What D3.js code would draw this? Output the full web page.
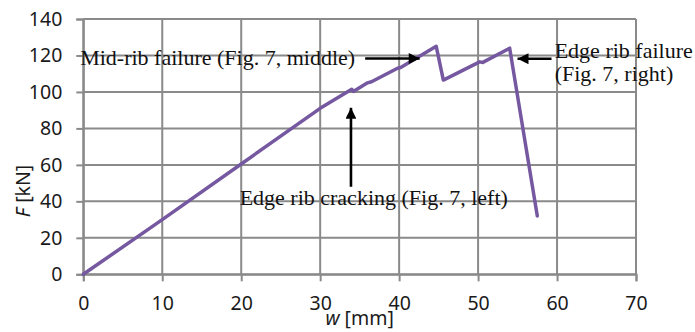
<!DOCTYPE html>
<html><head><meta charset="utf-8">
<script src="https://cdn.jsdelivr.net/npm/d3@7"></script>
<style>
html,body{margin:0;padding:0;background:#fff;}
svg{display:block;}
</style></head>
<body>
<script>
// Data
const wValues = [0, 10, 20, 30, 34.0, 34.2, 36.0, 36.5, 39.8, 40.2, 44.7, 45.6, 50.2, 50.6, 54.0, 57.5];
const fValues = [0, 30, 60.5, 91, 101.5, 100.3, 105, 105.6, 113, 113.4, 125, 106.5, 116.5, 116.2, 124, 32];
const xTicks = [0, 10, 20, 30, 40, 50, 60, 70];
const yTicks = [0, 20, 40, 60, 80, 100, 120, 140];
const annotations = [
  {lines: ["Mid-rib failure (Fig. 7, middle)"], tx: -0.4, ty: 114.6, from: [35.7, 118.3], to: [42.6, 118.3]},
  {lines: ["Edge rib failure", "(Fig. 7, right)"], tx: 59.7, ty: 118.5, from: [59.3, 118.2], to: [55.0, 118.2]},
  {lines: ["Edge rib cracking (Fig. 7, left)"], tx: 19.8, ty: 38, from: [33.9, 48], to: [33.9, 91.3]}
];

const W = 695, H = 332;
const svg = d3.select("body").append("svg").attr("width", W).attr("height", H);
const x = d3.scaleLinear().domain([0, 70]).range([83.3, 636]);
const y = d3.scaleLinear().domain([0, 140]).range([274.3, 19]);

const gridColor = "#8a8a8a";
// grid
svg.append("g").selectAll("line.h").data(yTicks).join("line")
  .attr("x1", x(0)).attr("x2", x(70)).attr("y1", d => y(d)).attr("y2", d => y(d))
  .attr("stroke", gridColor).attr("stroke-width", 2);
svg.append("g").selectAll("line.v").data(xTicks).join("line")
  .attr("y1", y(0)).attr("y2", y(140)).attr("x1", d => x(d)).attr("x2", d => x(d))
  .attr("stroke", gridColor).attr("stroke-width", 2);

// axes
const xAxis = svg.append("g").attr("transform", `translate(0,${y(0)})`)
  .call(d3.axisBottom(x).tickValues(xTicks).tickSize(7).tickPadding(15));
const yAxis = svg.append("g").attr("transform", `translate(${x(0)},0)`)
  .call(d3.axisLeft(y).tickValues(yTicks).tickSize(7).tickPadding(14));
[xAxis, yAxis].forEach(g => {
  g.select(".domain").attr("stroke", gridColor).attr("stroke-width", 2);
  g.selectAll(".tick line").attr("stroke", gridColor).attr("stroke-width", 2);
  g.selectAll(".tick text").attr("fill", "#1a1a1a")
    .style("font-family", "'Noto Sans', 'Open Sans', sans-serif").style("font-size", "19.5px");
});

// axis titles
svg.append("text").attr("x", x(35)).attr("y", 325).attr("text-anchor", "middle")
  .style("font-family", "'Noto Sans', sans-serif").style("font-size", "19.5px").attr("fill", "#1a1a1a")
  .html('<tspan font-style="italic">w</tspan> [mm]');
svg.append("text").attr("transform", "translate(30,191) rotate(-90)").attr("text-anchor", "middle")
  .style("font-family", "'Noto Sans', sans-serif").style("font-size", "19.5px").attr("fill", "#1a1a1a")
  .html('<tspan font-style="italic">F</tspan> [kN]');

// data line
const pts = wValues.map((w, i) => [w, fValues[i]]);
svg.append("path").datum(pts)
  .attr("d", d3.line().x(d => x(d[0])).y(d => y(d[1])))
  .attr("fill", "none").attr("stroke", "#7558a0").attr("stroke-width", 3.5)
  .attr("stroke-linejoin", "round").attr("stroke-linecap", "round");

// arrow marker
svg.append("defs").append("marker").attr("id", "ah")
  .attr("viewBox", "0 0 10 10").attr("refX", 10).attr("refY", 5)
  .attr("markerWidth", 5).attr("markerHeight", 4.2).attr("markerUnits", "strokeWidth")
  .attr("orient", "auto")
  .append("path").attr("d", "M0,0 L10,5 L0,10 Z").attr("fill", "#000");

// annotations
annotations.forEach(a => {
  svg.append("line")
    .attr("x1", x(a.from[0])).attr("y1", y(a.from[1]))
    .attr("x2", x(a.to[0])).attr("y2", y(a.to[1]))
    .attr("stroke", "#000").attr("stroke-width", 2.6).attr("marker-end", "url(#ah)");
  const t = svg.append("text").attr("x", x(a.tx)).attr("y", y(a.ty))
    .style("font-family", "'Liberation Serif', 'Times New Roman', serif").style("font-size", "22px")
    .attr("fill", "#111");
  a.lines.forEach((l, i) => {
    t.append("tspan").attr("x", x(a.tx)).attr("dy", i === 0 ? 0 : 22.5).text(l);
  });
});
</script>
</body></html>
